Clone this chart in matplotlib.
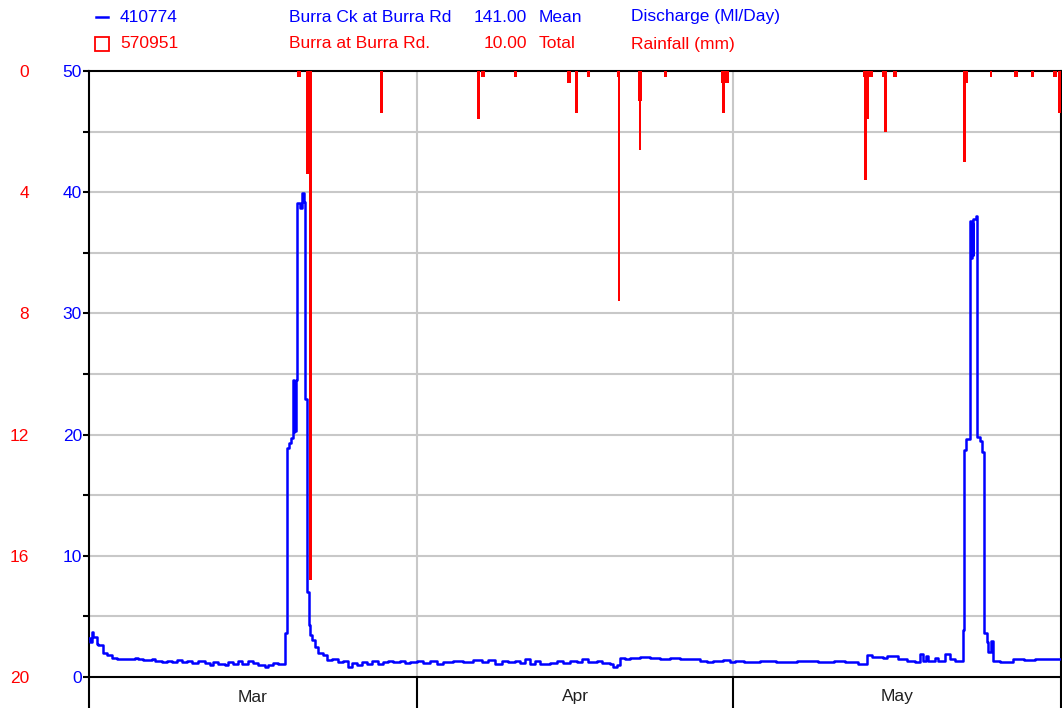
import matplotlib.pyplot as plt
import numpy as np
from matplotlib.lines import Line2D

plt.rcParams['font.family'] = ['Liberation Sans', 'DejaVu Sans']

# discharge (Ml/Day), step series: days since 1 Mar -> value
flow_day = [
    0.0, 0.09, 0.25, 0.41, 0.73, 0.88, 1.36, 1.67, 2.15, 2.62, 2.93, 4.35, 4.67, 5.14,
    5.93, 6.25, 6.88, 7.35, 7.82, 8.30, 8.77, 9.25, 9.72, 10.35, 10.98, 11.45, 11.77,
    12.24, 12.87, 13.19, 13.66, 14.13, 14.45, 15.08, 15.55, 16.03, 16.66, 16.97, 17.45,
    17.92, 18.24, 18.55, 18.77, 18.93, 19.09, 19.28, 19.36, 19.44, 19.52, 19.60, 19.69,
    19.97, 20.13, 20.32, 20.45, 20.61, 20.82, 20.90, 21.08, 21.39, 21.70, 22.18, 22.50,
    22.97, 23.60, 24.07, 24.54, 24.86, 25.34, 25.81, 26.28, 26.76, 27.38, 27.86, 28.33,
    28.80, 29.44, 29.91, 30.38, 31.00, 31.64, 32.28, 32.91, 33.54, 34.48, 35.43, 36.38,
    37.17, 37.80, 38.43, 39.06, 39.69, 40.32, 40.80, 41.27, 41.74, 42.22, 42.69, 43.63,
    44.27, 44.90, 45.53, 46.16, 46.64, 47.27, 48.05, 48.53, 49.31, 49.63, 49.94, 50.26,
    50.73, 51.20, 52.15, 53.10, 54.05, 55.00, 55.94, 56.90, 57.84, 58.47, 59.10, 60.05,
    60.67, 61.15, 62.0, 63.5, 65.0, 67.0, 69.0, 70.5, 71.6, 72.8, 73.6, 74.08, 75.18,
    75.50, 76.60, 77.39, 78.18, 78.65, 78.91, 79.22, 79.44, 80.07, 80.40, 81.02, 81.50,
    81.97, 82.44, 82.76, 82.85, 82.98, 83.39, 83.47, 83.55, 83.63, 83.71, 83.96, 84.08,
    84.33, 84.55, 84.74, 84.97, 85.12, 85.38, 85.53, 85.59, 86.2, 87.0, 87.5, 88.5,
    89.5, 90.5, 91.5, 92.0,
]
flow_val = [
    3.2, 2.9, 3.7, 3.3, 2.7, 2.6, 2.0, 1.8, 1.6, 1.5, 1.5, 1.55, 1.45, 1.4,
    1.5, 1.35, 1.2, 1.35, 1.2, 1.4, 1.25, 1.35, 1.15, 1.3, 1.15, 1.0, 1.2,
    1.1, 1.0, 1.2, 1.05, 1.3, 1.1, 1.3, 1.15, 1.0, 0.8, 0.95, 1.15,
    1.05, 1.1, 3.6, 18.9, 19.3, 19.7, 24.5, 20.2, 24.3, 20.3, 24.5, 39.1,
    38.7, 39.9, 39.2, 22.9, 7.0, 4.3, 3.5, 3.05, 2.5, 2.0, 1.8, 1.4,
    1.5, 1.2, 1.35, 0.85, 1.15, 1.0, 1.25, 1.1, 1.3, 1.05, 1.2, 1.35,
    1.2, 1.3, 1.15, 1.2, 1.3, 1.15, 1.3, 1.05, 1.2, 1.3, 1.25, 1.4,
    1.2, 1.4, 1.1, 1.3, 1.2, 1.35, 1.15, 1.5, 1.1, 1.35, 1.1, 1.15,
    1.3, 1.15, 1.3, 1.2, 1.45, 1.2, 1.3, 1.15, 1.05, 0.85, 1.0, 1.6,
    1.5, 1.6, 1.65, 1.55, 1.5, 1.55, 1.45, 1.5, 1.3, 1.2, 1.3, 1.4,
    1.2, 1.35, 1.2, 1.3, 1.2, 1.3, 1.25, 1.35, 1.25, 1.1, 1.8, 1.65, 1.55,
    1.7, 1.45, 1.3, 1.2, 1.9, 1.35, 1.75, 1.35, 1.55, 1.35, 1.9, 1.5,
    1.3, 1.35, 3.9, 18.7, 19.6, 37.6, 34.6, 37.4, 34.8, 37.8, 38.0, 19.8,
    19.5, 18.6, 3.6, 2.9, 2.1, 2.95, 2.0, 1.3, 1.2, 1.25, 1.45, 1.4,
    1.5, 1.45, 1.5, 1.5,
]

# rainfall (mm): bar start / end (days since 1 Mar) and depth
rain_start = [19.72, 20.51, 20.80, 27.54, 36.70, 37.10, 40.23, 45.27, 46.00, 47.11,
              50.00, 50.04, 51.96, 52.08, 54.43, 59.79, 59.94, 73.23, 73.38, 73.61,
              73.85, 75.06, 75.22, 76.13, 82.70, 83.01, 85.28, 87.58, 89.13, 91.27,
              91.75]
rain_end = [20.04, 20.80, 21.11, 27.86, 37.01, 37.45, 40.54, 45.59, 46.31, 47.42,
            50.26, 50.23, 52.31, 52.27, 54.74, 60.55, 60.23, 73.38, 73.61, 73.85,
            74.17, 75.22, 75.50, 76.45, 83.01, 83.20, 85.47, 87.90, 89.44, 91.59,
            92.00]
rain_mm = [0.2, 3.4, 16.8, 1.4, 1.6, 0.2, 0.2, 0.4, 1.4, 0.2,
           0.2, 7.6, 1.0, 2.6, 0.2, 0.4, 1.4, 0.2, 3.6, 1.6,
           0.2, 0.2, 2.0, 0.2, 3.0, 0.4, 0.2, 0.2, 0.2, 0.2,
           1.4]

months = ['Mar', 'Apr', 'May']
month_edges = [0, 31, 61, 92]

BLUE = '#0000ff'
RED = '#ff0000'
GRID = '#c8c8c8'
FS = 12.5

fig = plt.figure(figsize=(10.62, 7.11), dpi=100)
ax = fig.add_axes([89 / 1062, 1 - 677 / 711, (1061 - 89) / 1062, (677 - 71) / 711])

ax.plot(flow_day, flow_val, drawstyle='steps-post', color=BLUE, lw=1.8, zorder=3)
ax.set_xlim(0, 92)
ax.set_ylim(0, 50)

# y axis (discharge)
ax.set_yticks(np.arange(0, 51, 10))
ax.set_yticks(np.arange(5, 50, 10), minor=True)
ax.tick_params(axis='y', which='both', direction='out', length=4.5, width=1.5,
               color='black', labelcolor=BLUE, labelsize=FS, pad=0.5)
for v in np.arange(5, 50, 5):
    ax.axhline(v, color=GRID, lw=1.5, zorder=1)

# x axis (months)
ax.set_xticks(month_edges)
ax.set_xticklabels([])
ax.set_xticks([(a + b) / 2 for a, b in zip(month_edges[:-1], month_edges[1:])], minor=True)
ax.set_xticklabels(months, minor=True)
ax.tick_params(axis='x', which='major', direction='out', length=22, width=1.5, color='black')
ax.tick_params(axis='x', which='minor', length=0, labelsize=FS, labelcolor='#202020', pad=9)
for d in month_edges[1:-1]:
    ax.axvline(d, color=GRID, lw=1.5, zorder=1)

for s in ax.spines.values():
    s.set_color('black')
    s.set_linewidth(1.5)

# rainfall on an inverted axis hanging from the top
ax2 = ax.twinx()
widths = [e - s for s, e in zip(rain_start, rain_end)]
ax2.bar(rain_start, rain_mm, width=widths, align='edge', color=RED, lw=0, zorder=4)
ax2.set_ylim(20, 0)
ax2.set_yticks(np.arange(0, 21, 4))
ax2.yaxis.tick_left()
ax2.tick_params(axis='y', length=0, labelcolor=RED, labelsize=FS, pad=43)
for s in ax2.spines.values():
    s.set_visible(False)

# header rows
y1, y2 = 1 - 17 / 711, 1 - 44 / 711
fig.add_artist(Line2D([96 / 1062, 108 / 1062], [y1, y1], color=BLUE, lw=1.8))
fig.add_artist(Line2D([102 / 1062], [y2], marker='s', markersize=10, mfc='none',
                      mec=RED, mew=1.3, ls='none'))
rows = [
    (y1, BLUE, '410774', 'Burra Ck at Burra Rd', '141.00', 'Mean', 'Discharge (Ml/Day)'),
    (y2, RED, '570951', 'Burra at Burra Rd.', '10.00', 'Total', 'Rainfall (mm)'),
]
for y, c, site, name, val, stat, var in rows:
    fig.text(120 / 1062, y, site, color=c, fontsize=FS, va='center')
    fig.text(289 / 1062, y, name, color=c, fontsize=FS, va='center')
    fig.text(527 / 1062, y, val, color=c, fontsize=FS, va='center', ha='right')
    fig.text(539 / 1062, y, stat, color=c, fontsize=FS, va='center')
    fig.text(631 / 1062, y, var, color=c, fontsize=FS, va='center')

fig.savefig('out.png', dpi=100)
